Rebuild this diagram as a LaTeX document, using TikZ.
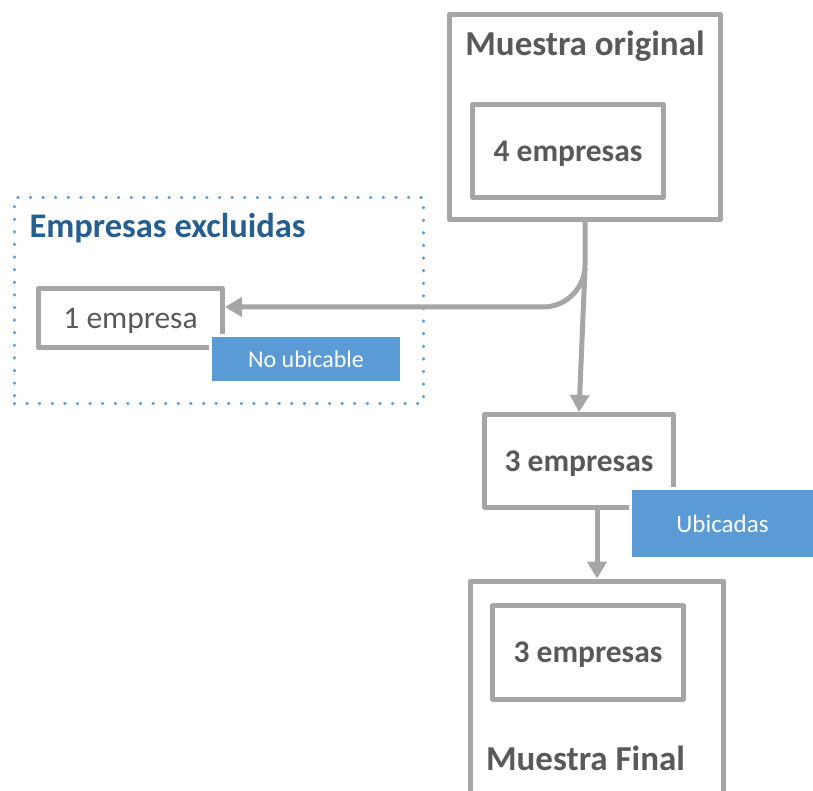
\documentclass[tikz,border=0pt]{standalone}
\usepackage{fontspec}
\setmainfont{Carlito}
\usetikzlibrary{arrows.meta}
\definecolor{linegray}{HTML}{A6A6A6}
\definecolor{textgray}{HTML}{595959}
\definecolor{boxblue}{HTML}{5B9BD5}
\definecolor{titleblue}{HTML}{255E91}
\begin{document}
\begin{tikzpicture}[x=1pt,y=-1pt,line join=round,
		caja/.style={draw=linegray,line width=5pt,inner sep=0pt,fill=white,text=textgray,text depth=0pt,
			font=\fontsize{31.5}{34}\selectfont\bfseries},
		etiq/.style={fill=boxblue,draw=white,line width=3pt,inner sep=0pt,text=white,
			font=\fontsize{24}{28}\selectfont},
		titulo/.style={text=textgray,font=\fontsize{35}{38}\selectfont\bfseries},
		flecha/.style={draw=linegray,line width=5pt,-{Triangle[width=19pt,length=17pt]}}]
	\useasboundingbox (0,0) rectangle (813,791);
	\clip (0,0) rectangle (813,791);
	
	%------------muestra original
	\node[caja,minimum width=271pt,minimum height=205pt] (orig) at (585,117) {};
	\node[titulo] (origt) at (585,46) {Muestra original};
	\node[caja,minimum width=191pt,minimum height=93pt] (cuatro) at (568,151) {4 empresas};
	
	%------------excluidas
	\node[draw=boxblue,line width=3.5pt,line cap=round,dash pattern=on 0pt off 12.6pt,
		minimum width=409pt,minimum height=206pt,inner sep=0pt] (excl) at (219,300.5) {};
	\node[titulo,anchor=west,text=titleblue,font=\fontsize{34.5}{38}\selectfont\bfseries] (exclt) at (26,228) {Empresas excluidas};
	\node[caja,font=\fontsize{31.5}{34}\selectfont,minimum width=184pt,minimum height=59pt] (una) at (130.5,318) {1 empresa};
	\node[etiq,minimum width=191pt,minimum height=47pt] (noubic) at (306,359) {No ubicable};
	
	%------------ubicadas
	\node[caja,minimum width=189pt,minimum height=93pt] (tres) at (579,461) {3 empresas};
	\node[etiq,font=\fontsize{25}{28}\selectfont,minimum width=184pt,minimum height=70pt] (ubic) at (722.5,523.5) {Ubicadas};
	
	%------------muestra final
	\node[caja,minimum width=253pt,minimum height=240pt] (fin) at (597,701) {};
	\node[caja,minimum width=191pt,minimum height=94pt] (finin) at (588,652.5) {3 empresas};
	\node[titulo] (fint) at (585.5,758) {Muestra Final};
	
	%------------conectores
	\coordinate (rama) at (585,268);
	\draw[flecha,rounded corners=42pt] (orig.south -| rama) -- (585,307) -- (una.east |- 0,307);
	\draw[flecha] (rama) -- (tres.north);
	\draw[flecha] (tres.south -| fin.north) -- (fin.north);
\end{tikzpicture}
\end{document}
